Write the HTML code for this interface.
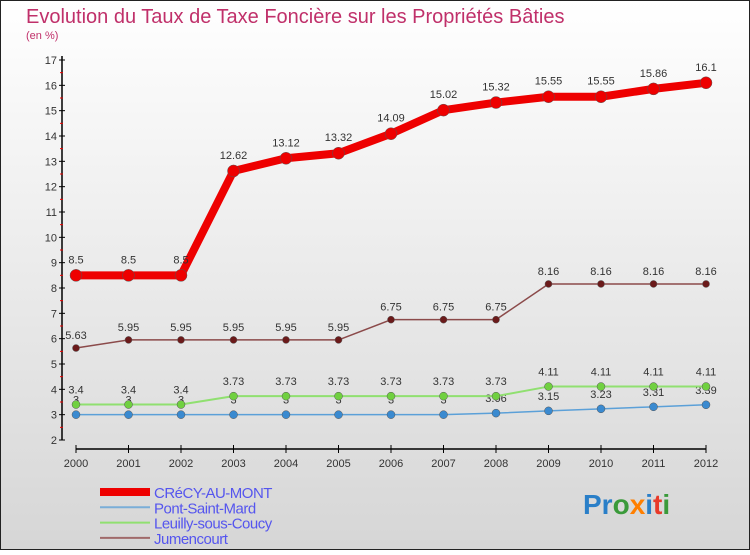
<!DOCTYPE html>
<html><head><meta charset="utf-8"><style>
html,body{margin:0;padding:0}
body{width:750px;height:550px;overflow:hidden;font-family:"Liberation Sans",sans-serif}
svg text{font-family:"Liberation Sans",sans-serif}
</style></head><body>
<svg id="chart" width="750" height="550">
<defs><linearGradient id="bg" x1="0" y1="0" x2="0" y2="1"><stop offset="0" stop-color="#ffffff"/><stop offset="1" stop-color="#d6d6d6"/></linearGradient></defs>
<rect x="0.5" y="0.5" width="749" height="549" fill="url(#bg)" stroke="#222"/>
<text x="26" y="23" font-size="20" fill="#c0306a">Evolution du Taux de Taxe Foncière sur les Propriétés Bâties</text>
<text x="26" y="39" font-size="11" fill="#c0306a">(en %)</text>
<g id="axes"></g><g id="series"></g><g id="legend"></g>
<text x="583" y="514" font-size="28" font-weight="bold"><tspan fill="#2a7fc8">Pr</tspan><tspan fill="#3a9a3a">o</tspan><tspan fill="#ff7f00">x</tspan><tspan fill="#2a7fc8">i</tspan><tspan fill="#e83a2a">t</tspan><tspan fill="#3a9a3a">i</tspan></text>
</svg>
<script>
const years=[2000,2001,2002,2003,2004,2005,2006,2007,2008,2009,2010,2011,2012];
const crecy=[8.5,8.5,8.5,12.62,13.12,13.32,14.09,15.02,15.32,15.55,15.55,15.86,16.1];
const pont=[3,3,3,3,3,3,3,3,3.06,3.15,3.23,3.31,3.39];
const leuilly=[3.4,3.4,3.4,3.73,3.73,3.73,3.73,3.73,3.73,4.11,4.11,4.11,4.11];
const jumen=[5.63,5.95,5.95,5.95,5.95,5.95,6.75,6.75,6.75,8.16,8.16,8.16,8.16];
const yTicks=[2,3,4,5,6,7,8,9,10,11,12,13,14,15,16,17];
const NS="http://www.w3.org/2000/svg";
const X=i=>76+i*(630/(years.length-1));
const Y=v=>440-(v-2)*(380/15);
function mk(p,t,a){const e=document.createElementNS(NS,t);for(const k in a)e.setAttribute(k,a[k]);p.appendChild(e);return e;}
const ax=document.getElementById('axes');
let l=mk(ax,'line',{x1:62,y1:56,x2:62,y2:440,stroke:'#000','stroke-width':1.5});


l=mk(ax,'line',{x1:76,y1:449,x2:706,y2:449,stroke:'#000','stroke-width':1.5});


yTicks.forEach(v=>{
 mk(ax,'line',{x1:59,y1:Y(v),x2:65,y2:Y(v),stroke:'#000'});
 if(v<17)mk(ax,'line',{x1:60,y1:Y(v+0.5),x2:63,y2:Y(v+0.5),stroke:'#e00'});
 const t=mk(ax,'text',{x:57,y:Y(v)+4,'font-size':11,'text-anchor':'end',fill:'#333'});t.textContent=v;
 
 
});
years.forEach((yr,i)=>{
 mk(ax,'line',{x1:X(i),y1:445,x2:X(i),y2:453,stroke:'#000'});
 const t=mk(ax,'text',{x:X(i),y:467,'font-size':11,'text-anchor':'middle',fill:'#333'});t.textContent=yr;
 
 
});
const sg=document.getElementById('series');
function series(d,color,w,r,fill,name,lblDy){
 const g=mk(sg,'g',{});
 
 
 const p=mk(g,'polyline',{points:d.map((v,i)=>X(i)+','+Y(v)).join(' '),fill:'none',stroke:color,'stroke-width':w,'stroke-linejoin':'round'});
 
 
 d.forEach((v,i)=>{
  const c=mk(g,'circle',{cx:X(i),cy:Y(v),r:r,fill:fill,stroke:'#555','stroke-width':0.5});
  
  
  const t=mk(g,'text',{x:X(i),y:Y(v)+lblDy,'font-size':11,'text-anchor':'middle',fill:'#333'});t.textContent=v;
  
  
 });
}
series(jumen,'#8b4a4a',1.5,3.5,'#6b1a1a','jumencourt',-9);
series(pont,'#5ba0d8',1.5,4,'#3a8ad0','pont-saint-mard',-11);
series(leuilly,'#90e070',2,4,'#70d040','leuilly-sous-coucy',-11);
series(crecy,'#ee0000',8,6,'#ee0000','crecy-au-mont',-12);
const lg=document.getElementById('legend');
[['CRéCY-AU-MONT','#ee0000',8],['Pont-Saint-Mard','#7aaed8',2],['Leuilly-sous-Coucy','#90e070',2],['Jumencourt','#a06a6a',2]].forEach((e,i)=>{
 const y=492+i*15.3;
 const g=mk(lg,'g',{});
 
 
 mk(g,'line',{x1:100,y1:y,x2:150,y2:y,stroke:e[1],'stroke-width':e[2]});
 const t=mk(g,'text',{x:154,y:y+6,'font-size':15,fill:'#5555ee','letter-spacing':'-0.5'});t.textContent=e[0];
});
</script>
</body></html>
